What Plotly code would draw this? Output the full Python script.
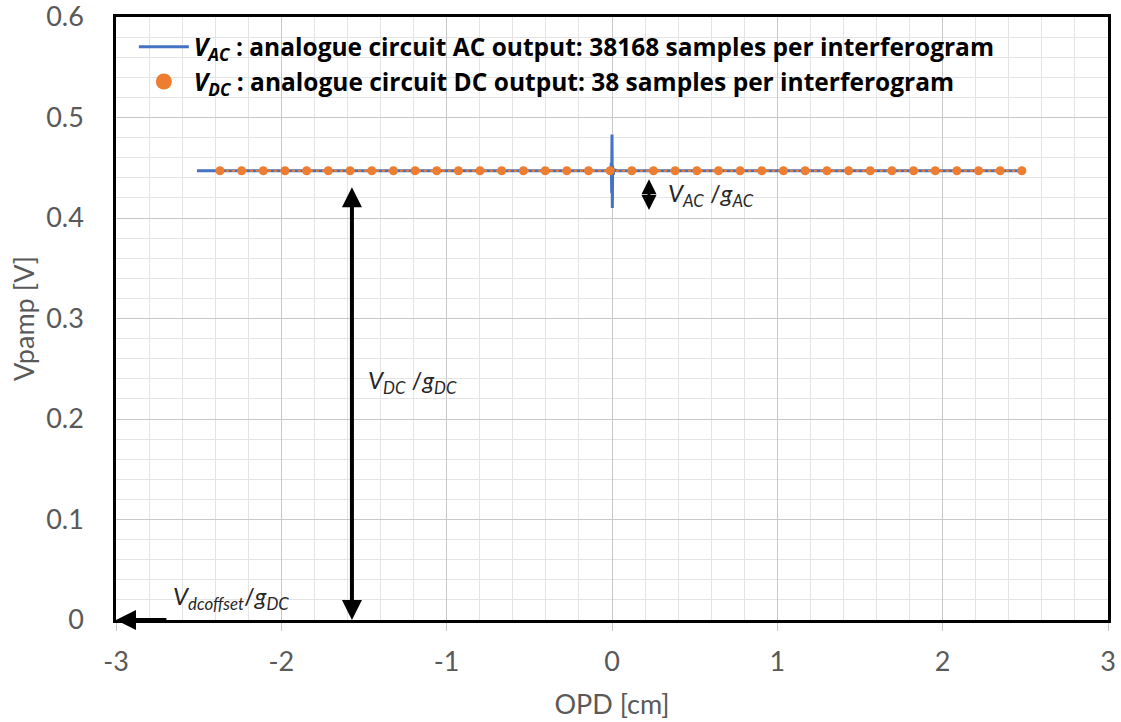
import plotly.graph_objects as go

# ---- data ----
x_ac = [-2.51, -0.03, -0.012, -0.008, -0.004, -0.002, 0.0, 0.002, 0.004, 0.008, 0.012, 0.03, 2.50]
y_ac = [0.447, 0.447, 0.449, 0.444, 0.455, 0.425, 0.483, 0.410, 0.452, 0.443, 0.448, 0.447, 0.447]

x_dc = [-2.371, -2.240, -2.109, -1.978, -1.847, -1.716, -1.584, -1.453, -1.322, -1.191,
        -1.060, -0.929, -0.798, -0.667, -0.536, -0.404, -0.273, -0.142, -0.011, 0.120,
        0.251, 0.382, 0.513, 0.644, 0.775, 0.906, 1.037, 1.168, 1.300, 1.431,
        1.562, 1.693, 1.824, 1.955, 2.086, 2.217, 2.348, 2.479]
y_dc = [0.447, 0.447, 0.447, 0.447, 0.447, 0.447, 0.447, 0.447, 0.447, 0.447,
        0.447, 0.447, 0.447, 0.447, 0.447, 0.447, 0.447, 0.447, 0.447, 0.447,
        0.447, 0.447, 0.447, 0.447, 0.447, 0.447, 0.447, 0.447, 0.447, 0.447,
        0.447, 0.447, 0.447, 0.447, 0.447, 0.447, 0.447, 0.447]

x_tick_vals = [-3, -2, -1, 0, 1, 2, 3]
x_tick_text = ["-3", "-2", "-1", "0", "1", "2", "3"]
y_tick_vals = [0, 0.1, 0.2, 0.3, 0.4, 0.5, 0.6]
y_tick_text = ["0", "0.1", "0.2", "0.3", "0.4", "0.5", "0.6"]

legend_ac = "<b><i>V</i><sub><i>AC</i></sub> : analogue circuit AC output: 38168 samples per interferogram</b>"
legend_dc = "<b><i>V</i><sub><i>DC</i></sub> : analogue circuit DC output: 38 samples per interferogram</b>"

BLUE = "#4472C4"
ORANGE = "#ED7D31"
GRAY = "#595959"
FONT = "Lato, 'Open Sans', sans-serif"
LEG_FONT = "'Open Sans', Lato, sans-serif"

fig = go.Figure()

fig.add_trace(go.Scatter(x=x_ac, y=y_ac, mode="lines",
                         line=dict(color=BLUE, width=3), showlegend=False))
fig.add_trace(go.Scatter(x=x_dc, y=y_dc, mode="lines+markers",
                         line=dict(color=ORANGE, width=2, dash="dot"),
                         marker=dict(color=ORANGE, size=9), showlegend=False))
# legend-only entries
fig.add_trace(go.Scatter(x=[None], y=[None], mode="lines", name=legend_ac,
                         line=dict(color=BLUE, width=3)))
fig.add_trace(go.Scatter(x=[None], y=[None], mode="markers", name=legend_dc,
                         marker=dict(color=ORANGE, size=18)))

ann_font = dict(family=FONT, size=24, color="#262626")
arrow_common = dict(showarrow=True, text="", axref="x", ayref="y", xref="x", yref="y",
                    arrowcolor="black", arrowhead=2, arrowsize=1)

fig.update_layout(
    width=1121, height=722,
    margin=dict(l=116, r=13, t=17, b=102, autoexpand=False),
    paper_bgcolor="white", plot_bgcolor="white",
    font=dict(family=FONT, color=GRAY),
    showlegend=True,
    legend=dict(x=0.018, y=0.988, xanchor="left", yanchor="top",
                bgcolor="rgba(0,0,0,0)", font=dict(family=LEG_FONT, size=24.5, color="black"),
                itemwidth=50, tracegroupgap=0),
    xaxis=dict(range=[-3, 3], tickmode="array", tickvals=x_tick_vals, ticktext=x_tick_text,
               automargin=False, ticklabeloverflow="allow",
               showgrid=True, gridcolor="#c8c8c8", gridwidth=1,
               minor=dict(dtick=0.2, showgrid=True, gridcolor="#e4e4e4", gridwidth=1),
               showline=True, linecolor="black", linewidth=2.5, mirror=True,
               ticks="outside", ticklen=8, tickcolor="#c8c8c8", ticklabelstandoff=8,
               zeroline=False,
               tickfont=dict(family=FONT, size=27, color=GRAY),
               title=dict(text="OPD [cm]", font=dict(family=FONT, size=27, color=GRAY), standoff=19)),
    yaxis=dict(range=[0, 0.6], tickmode="array", tickvals=y_tick_vals, ticktext=y_tick_text,
               automargin=False, ticklabeloverflow="allow",
               showgrid=True, gridcolor="#c8c8c8", gridwidth=1,
               minor=dict(dtick=0.02, showgrid=True, gridcolor="#e4e4e4", gridwidth=1),
               showline=True, linecolor="black", linewidth=2.5, mirror=True,
               zeroline=False, ticks="", ticklabelstandoff=24,
               tickfont=dict(family=FONT, size=27, color=GRAY),
               title=dict(text="Vpamp [V]", font=dict(family=FONT, size=27, color=GRAY), standoff=4)),
    annotations=[
        dict(x=-1.573, y=0.0, ax=-1.573, ay=0.432, arrowwidth=4, arrowside="end+start", **arrow_common),
        dict(x=0.224, y=0.408, ax=0.224, ay=0.440, arrowwidth=3, arrowside="end+start", **arrow_common),
        dict(x=-3.0, y=0.0, ax=-2.686, ay=0.0, arrowwidth=4, arrowside="end", **arrow_common),
        dict(x=-1.49, y=0.237, xref="x", yref="y", showarrow=False, xanchor="left",
             text="<i>V</i><sub><i>DC</i></sub> /<i>g</i><sub><i>DC</i></sub>", font=ann_font),
        dict(x=0.325, y=0.423, xref="x", yref="y", showarrow=False, xanchor="left",
             text="<i>V</i><sub><i>AC</i></sub> /<i>g</i><sub><i>AC</i></sub>", font=ann_font),
        dict(x=-2.665, y=0.022, xref="x", yref="y", showarrow=False, xanchor="left",
             text="<i>V</i><sub><i>dcoffset</i></sub>/<i>g</i><sub><i>DC</i></sub>", font=ann_font),
    ],
)

fig.write_html("out.html")
